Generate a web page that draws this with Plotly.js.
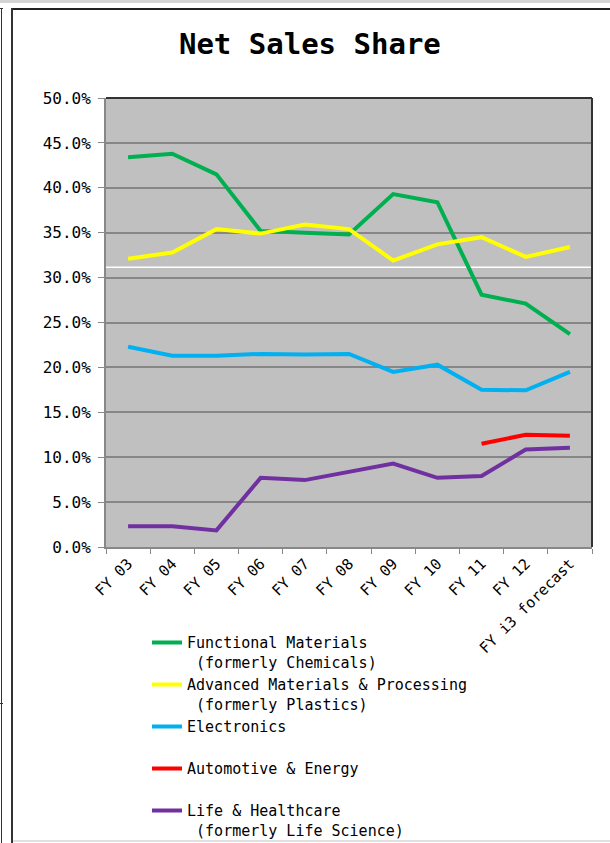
<!DOCTYPE html>
<html>
<head>
<meta charset="utf-8">
<script src="https://cdn.plot.ly/plotly-3.0.1.min.js"></script>
<style>
  html, body { margin: 0; padding: 0; background: #fff; }
  #chart { position: absolute; left: 0; top: 0; width: 610px; height: 843px; }
  .fr { position: absolute; pointer-events: none; z-index: 10; }
</style>
</head>
<body>
<div id="chart"></div>
<div class="fr" style="left:0;top:0;width:610px;height:3px;background:#d4d4d4;"></div>
<div class="fr" style="left:11px;top:8px;width:599px;height:2px;background:#222;"></div>
<div class="fr" style="left:11px;top:8px;width:2px;height:835px;background:#333;"></div>
<div class="fr" style="left:1px;top:8px;width:1px;height:835px;background:#333;"></div>
<div class="fr" style="left:0px;top:8px;width:3px;height:1px;background:#333;"></div>
<div class="fr" style="left:0px;top:703px;width:3px;height:1px;background:#333;"></div>
<div class="fr" style="left:13px;top:840px;width:597px;height:2px;background:#e0e0e0;"></div>
<script>
const categories = ["FY 03","FY 04","FY 05","FY 06","FY 07","FY 08","FY 09","FY 10","FY 11","FY 12","FY i3 forecast"];
const functionalMaterials = [43.4, 43.8, 41.5, 35.2, 35.0, 34.8, 39.3, 38.4, 28.1, 27.1, 23.7];
const advancedMaterials   = [32.1, 32.8, 35.4, 34.9, 35.9, 35.4, 31.9, 33.7, 34.5, 32.3, 33.4];
const electronics         = [22.3, 21.3, 21.3, 21.5, 21.45, 21.5, 19.5, 20.3, 17.5, 17.45, 19.5];
const automotiveEnergy    = [null, null, null, null, null, null, null, null, 11.5, 12.5, 12.4];
const lifeHealthcare      = [2.3, 2.3, 1.85, 7.7, 7.45, 8.35, 9.3, 7.7, 7.9, 10.85, 11.05];
const seriesNames = [
  "Functional Materials<br>\u00a0(formerly Chemicals)",
  "Advanced Materials &amp; Processing<br>\u00a0(formerly Plastics)",
  "Electronics<br>\u00a0",
  "Automotive &amp; Energy<br>\u00a0",
  "Life &amp; Healthcare<br>\u00a0(formerly Life Science)"
];
const yTickVals = [0, 5, 10, 15, 20, 25, 30, 35, 40, 45, 50];
const yTickText = yTickVals.map(v => v.toFixed(1) + "%");

const colors = ["#00B050", "#FFFF00", "#00B0F0", "#FF0000", "#7030A0"];
const seriesData = [functionalMaterials, advancedMaterials, electronics, automotiveEnergy, lifeHealthcare];
const FONT = "DejaVu Sans Mono, monospace";

const traces = seriesData.map((vals, i) => ({
  type: "scatter",
  mode: "lines",
  x: categories,
  y: vals,
  name: seriesNames[i],
  line: { color: colors[i], width: 4 },
  connectgaps: false,
  hoverinfo: "skip"
}));

const layout = {
  width: 610,
  height: 843,
  margin: { l: 106, r: 18, t: 98, b: 296, autoexpand: false },
  paper_bgcolor: "rgba(0,0,0,0)",
  plot_bgcolor: "#C0C0C0",
  font: { family: FONT, color: "#000" },
  title: {
    text: "<b>Net Sales Share</b>",
    font: { family: FONT, size: 29, color: "#000" },
    xref: "container", x: 0.508, xanchor: "center",
    yref: "container", y: 0.948, yanchor: "middle"
  },
  xaxis: {
    type: "category",
    range: [-0.5, 10.5],
    automargin: false,
    showgrid: false,
    showline: true, linecolor: "#888888", linewidth: 2,
    ticks: "outside", tickson: "boundaries", ticklen: 5, tickcolor: "#888888", tickwidth: 1,
    tickangle: -45,
    tickfont: { family: FONT, size: 15, color: "#000" },
    fixedrange: true
  },
  yaxis: {
    range: [0, 50],
    tickmode: "array",
    tickvals: yTickVals,
    ticktext: yTickText,
    automargin: false,
    showgrid: true, gridcolor: "#868686", gridwidth: 2,
    zeroline: false,
    showline: true, linecolor: "#888888", linewidth: 2,
    ticks: "outside", ticklen: 6, tickcolor: "#888888", tickwidth: 1,
    ticklabelstandoff: 4,
    tickfont: { family: FONT, size: 16, color: "#000" },
    fixedrange: true
  },
  shapes: [
    { type: "line", xref: "paper", yref: "paper", x0: 0, x1: 1, y0: 1, y1: 1, line: { color: "#333", width: 2 }, layer: "above" },
    { type: "line", xref: "paper", yref: "paper", x0: 1, x1: 1, y0: 0, y1: 1, line: { color: "#333", width: 2 }, layer: "above" },
    { type: "line", xref: "paper", yref: "paper", x0: 0, x1: 1, y0: 0.623, y1: 0.623, line: { color: "#ffffff", width: 1.5 }, layer: "below" }
  ],
  showlegend: true,
  legend: {
    xref: "container", x: 0.241, xanchor: "left",
    yref: "container", y: 0.2571, yanchor: "top",
    orientation: "v",
    valign: "top",
    bgcolor: "rgba(0,0,0,0)",
    borderwidth: 0,
    tracegroupgap: 0,
    font: { family: FONT, size: 15, color: "#000" },
    itemwidth: 30
  }
};

Plotly.newPlot("chart", traces, layout, { staticPlot: true, displayModeBar: false });
</script>
</body>
</html>
